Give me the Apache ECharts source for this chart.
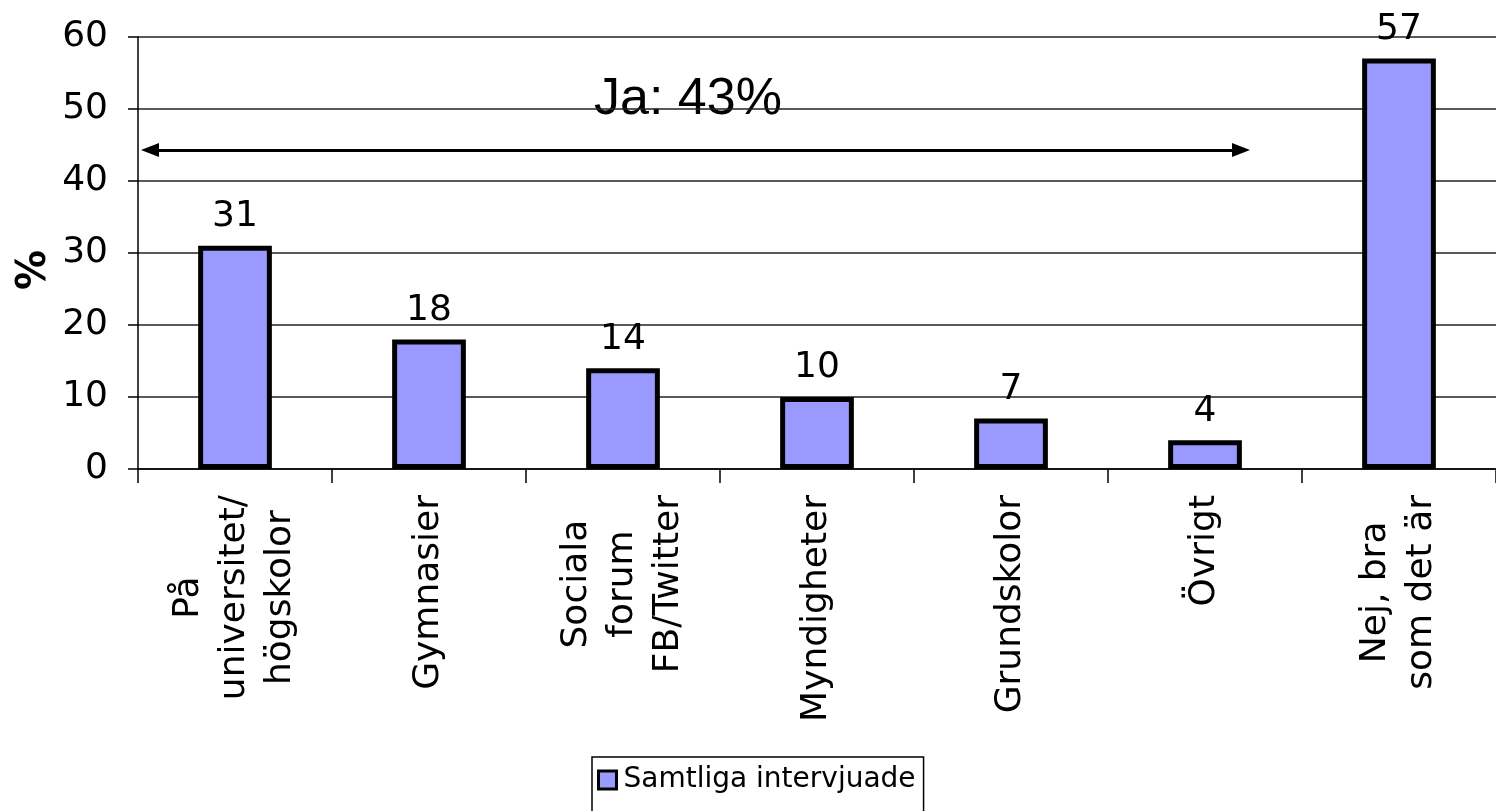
<!DOCTYPE html>
<html>
<head>
<meta charset="utf-8">
<script src="https://cdn.jsdelivr.net/npm/echarts@6/dist/echarts.min.js"></script>
<style>
html,body{margin:0;padding:0;background:#fff;}
#c{width:1496px;height:811px;}
</style>
</head>
<body>
<div id="c"></div>
<script>
const categories = ["På\nuniversitet/\nhögskolor", "Gymnasier", "Sociala\nforum\nFB/Twitter", "Myndigheter", "Grundskolor", "Övrigt", "Nej, bra\nsom det är"];
const values = [31, 18, 14, 10, 7, 4, 57];
const seriesName = "Samtliga intervjuade";
const yTicks = [0, 10, 20, 30, 40, 50, 60];
const annotationText = "Ja: 43%";
const yAxisName = "%";

const chart = echarts.init(document.getElementById('c'), null, {renderer: 'canvas'});
const FONT = 'DejaVu Sans';
const option = {
  backgroundColor: '#ffffff',
  animation: false,
  grid: {left: 138, right: -3, top: 37, bottom: 342, containLabel: false},
  legend: {
    data: [seriesName],
    left: 592, top: 757,
    padding: [9, 8, 30, 5],
    borderColor: '#000', borderWidth: 1.5,
    itemWidth: 18, itemHeight: 18, itemGap: 4,
    icon: 'rect',
    itemStyle: {color: '#9999FF', borderColor: '#000', borderWidth: 3},
    textStyle: {fontFamily: FONT, fontSize: 28, color: '#000', padding: [0,0,0,2]}
  },
  xAxis: {
    type: 'category',
    data: categories,
    axisLine: {lineStyle: {color: '#000', width: 1.5}},
    axisTick: {show: true, length: 14, lineStyle: {color: '#000', width: 1.5}, alignWithLabel: false},
    axisLabel: {
      rotate: 90, interval: 0, margin: 26, color: '#000',
      fontFamily: FONT, fontSize: 36, lineHeight: 46,
      formatter: function (v) { return v.split('\n').map(s => '{c|' + s + '}').join('\n'); },
      rich: {c: {align: 'center', fontFamily: FONT, fontSize: 36, lineHeight: 46, color: '#000'}}
    }
  },
  yAxis: {
    type: 'value', min: yTicks[0], max: yTicks[yTicks.length - 1], interval: 10,
    axisLine: {show: true, lineStyle: {color: '#000', width: 1.5}},
    axisTick: {show: true, length: 10, inside: false, lineStyle: {color: '#000', width: 1.5}},
    axisLabel: {fontFamily: FONT, fontSize: 36, color: '#000', margin: 30},
    splitLine: {show: true, lineStyle: {color: '#222', width: 1.5}}
  },
  series: [{
    name: seriesName,
    type: 'bar',
    data: values,
    barWidth: '38%',
    itemStyle: {color: '#9999FF', borderColor: '#000', borderWidth: 5},
    label: {show: true, position: 'top', distance: 11, fontFamily: FONT, fontSize: 36, color: '#000'},
    markLine: {
      silent: true,
      symbol: ['triangle', 'triangle'],
      symbolSize: [14, 18],
      symbolOffset: 0,
      lineStyle: {color: '#000', width: 3, type: 'solid'},
      label: {show: false},
      data: [[{x: 150, y: 150}, {x: 1241, y: 150}]]
    }
  }],
  graphic: [{
    type: 'text', left: 594, top: 74,
    style: {text: annotationText, font: '52px "Liberation Sans"', fill: '#000'}
  }, {
    type: 'text', x: 35, y: 270, rotation: Math.PI / 2,
    style: {text: yAxisName, font: 'bold 40px "DejaVu Sans"', fill: '#000', align: 'center', verticalAlign: 'middle'}
  }]
};
chart.setOption(option);
</script>
</body>
</html>
